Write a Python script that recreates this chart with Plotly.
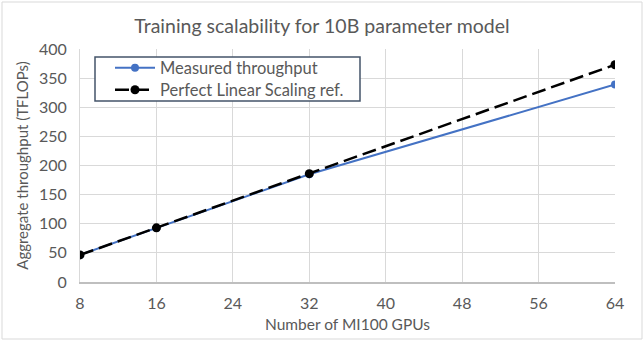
import plotly.graph_objects as go

gpus = [8, 16, 32, 64]
measured = [46.5, 92.5, 185, 339]
perfect = [46.5, 93, 186, 373]
x_ticks = [8, 16, 24, 32, 40, 48, 56, 64]
y_ticks = [0, 50, 100, 150, 200, 250, 300, 350, 400]

W, H = 644, 341
L, R, T, B = 80, 29, 49, 59
pw, ph = W - L - R, H - T - B

FONT = "Lato, 'Open Sans', sans-serif"
GREY = "#595959"


def px_x(p):
    return (p - L) / pw


def px_y(p):
    return (H - B - p) / ph


fig = go.Figure()
fig.add_trace(go.Scatter(
    x=gpus, y=measured, name="Measured throughput", mode="lines+markers",
    line=dict(color="#4472C4", width=2),
    marker=dict(color="#4472C4", size=8), legend="legend"))
fig.add_trace(go.Scatter(
    x=gpus, y=perfect, name="Perfect Linear Scaling ref.", mode="lines+markers",
    line=dict(color="black", width=2.5, dash="14px,6px"),
    marker=dict(color="black", size=9), legend="legend2"))

# outer chart border
fig.add_shape(type="rect", xref="paper", yref="paper",
              x0=px_x(2), x1=px_x(W - 2), y0=px_y(H - 2), y1=px_y(2),
              line=dict(color="#D9D9D9", width=1), layer="below")
# legend box
fig.add_shape(type="rect", xref="paper", yref="paper",
              x0=px_x(95), x1=px_x(360), y0=px_y(101), y1=px_y(57),
              line=dict(color="#44546A", width=1.5), fillcolor="white", layer="above")

leg_common = dict(xanchor="left", yanchor="middle",
                  bgcolor="rgba(0,0,0,0)", borderwidth=0,
                  font=dict(size=16.5, color=GREY, family=FONT),
                  itemwidth=40)

fig.update_layout(
    width=W, height=H,
    margin=dict(l=L, r=R, t=T, b=B, autoexpand=False),
    paper_bgcolor="white", plot_bgcolor="white",
    font=dict(family=FONT, color=GREY, size=15),
    title=dict(text="Training scalability for 10B parameter model",
               x=0.5, xref="container", xanchor="center",
               y=1 - 26 / H, yanchor="middle",
               font=dict(size=19.5, color=GREY, family=FONT)),
    showlegend=True,
    legend=dict(x=px_x(110), y=px_y(68), **leg_common),
    legend2=dict(x=px_x(110), y=px_y(90), **leg_common),
)
fig.update_xaxes(range=[8, 64], tickvals=x_ticks, ticktext=[str(v) for v in x_ticks],
                 showgrid=True, gridcolor="#D9D9D9", gridwidth=1,
                 showline=True, linecolor="#BFBFBF", linewidth=1.5,
                 zeroline=False, ticks="", ticklen=0, ticklabelstandoff=6,
                 automargin=False,
                 tickfont=dict(size=16, color=GREY),
                 title=dict(text="Number of MI100 GPUs", font=dict(size=15.5, color=GREY), standoff=8))
fig.update_yaxes(range=[0, 400], tickvals=y_ticks,
                 showgrid=True, gridcolor="#D9D9D9", gridwidth=1,
                 showline=True, linecolor="#D9D9D9", linewidth=1,
                 zeroline=False, ticks="", ticklabelstandoff=9,
                 automargin=False,
                 tickfont=dict(size=16, color=GREY),
                 title=dict(text="Aggregate throughput (TFLOPs)", font=dict(size=15, color=GREY), standoff=6))

fig.write_html("out.html")
